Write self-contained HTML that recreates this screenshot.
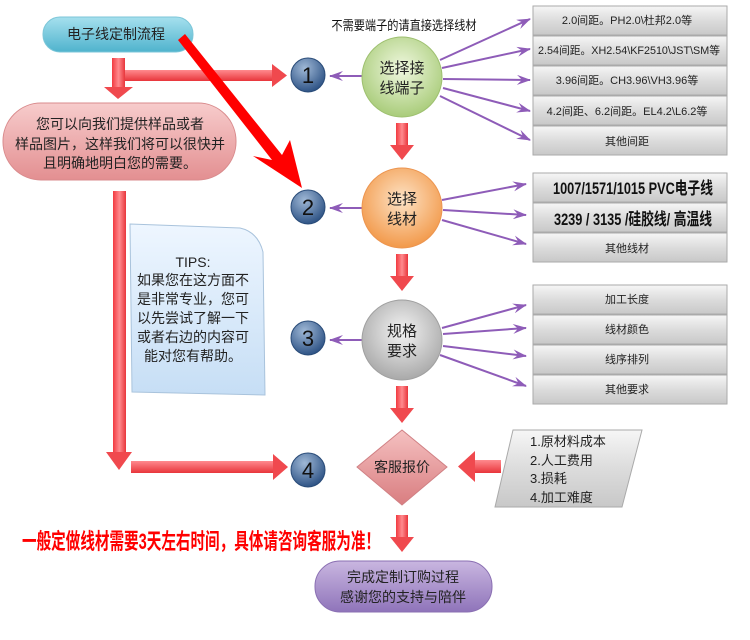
<!DOCTYPE html>
<html><head><meta charset="utf-8"><style>
html,body{margin:0;padding:0;background:#fff;width:750px;height:640px;overflow:hidden}
svg{display:block}
text{font-family:"Liberation Sans","Noto Sans CJK SC",sans-serif}
</style></head><body>
<svg width="750" height="640" viewBox="0 0 750 640" xmlns="http://www.w3.org/2000/svg">
<defs>
<linearGradient id="blue" x1="0" y1="0" x2="0" y2="1"><stop offset="0" stop-color="#a6e0ee"/><stop offset="1" stop-color="#4fb3cd"/></linearGradient>
<linearGradient id="pink" x1="0" y1="0" x2="0" y2="1"><stop offset="0" stop-color="#f7cccc"/><stop offset="1" stop-color="#e38f91"/></linearGradient>
<linearGradient id="purp" x1="0" y1="0" x2="0" y2="1"><stop offset="0" stop-color="#c9b6e0"/><stop offset="1" stop-color="#8f74ba"/></linearGradient>
<linearGradient id="gbox" x1="0" y1="0" x2="0" y2="1"><stop offset="0" stop-color="#f6f6f6"/><stop offset="0.5" stop-color="#dcdcdc"/><stop offset="1" stop-color="#c8c8c8"/></linearGradient>
<linearGradient id="rv" x1="0" y1="0" x2="1" y2="0"><stop offset="0" stop-color="#f23a40"/><stop offset="0.5" stop-color="#ff8a8e"/><stop offset="1" stop-color="#e8353b"/></linearGradient>
<linearGradient id="rh" x1="0" y1="0" x2="0" y2="1"><stop offset="0" stop-color="#ff8a8e"/><stop offset="1" stop-color="#e8353b"/></linearGradient>
<radialGradient id="num" cx="0.4" cy="0.3" r="0.7"><stop offset="0" stop-color="#9fb8d6"/><stop offset="1" stop-color="#2f5486"/></radialGradient>
<radialGradient id="cg" cx="0.5" cy="0.4" r="0.6"><stop offset="0" stop-color="#f0f8e0"/><stop offset="1" stop-color="#a9cc7a"/></radialGradient>
<radialGradient id="co" cx="0.5" cy="0.4" r="0.6"><stop offset="0" stop-color="#fde3c6"/><stop offset="1" stop-color="#f2994a"/></radialGradient>
<radialGradient id="cgr" cx="0.5" cy="0.4" r="0.6"><stop offset="0" stop-color="#f4f4f4"/><stop offset="1" stop-color="#a9a9a9"/></radialGradient>
<linearGradient id="dia" x1="0" y1="0" x2="0" y2="1"><stop offset="0" stop-color="#f5c1c1"/><stop offset="1" stop-color="#d97d80"/></linearGradient>
<linearGradient id="note" x1="0" y1="0" x2="0" y2="1"><stop offset="0" stop-color="#eef6ff"/><stop offset="1" stop-color="#c6def5"/></linearGradient>
<marker id="pa" markerWidth="14" markerHeight="10" refX="13" refY="5" orient="auto" markerUnits="userSpaceOnUse"><path d="M0,0 L14,5 L0,10 L5,5 Z" fill="#8e5cb8"/></marker>
</defs>

<!-- top pill -->
<rect x="43" y="17" width="150" height="35" rx="17" fill="url(#blue)" stroke="#7cc6d8"/>
<text x="116" y="39" font-size="14" text-anchor="middle" fill="#222">电子线定制流程</text>

<!-- red arrows left top -->
<rect x="112" y="58" width="13" height="30" fill="url(#rv)"/>
<path d="M104,87 L133,87 L118,99 Z" fill="#f0494e"/>
<rect x="125" y="70" width="148" height="11" fill="url(#rh)"/>
<path d="M272,64 L287,75.5 L272,87 Z" fill="#f0494e"/>

<!-- pink pill -->
<rect x="3" y="103" width="233" height="77" rx="38" fill="url(#pink)" stroke="#d98b8d"/>
<text font-size="14" text-anchor="middle" fill="#222"><tspan x="120" y="129">您可以向我们提供样品或者</tspan><tspan x="120" y="149">样品图片，这样我们将可以很快并</tspan><tspan x="120" y="168">且明确地明白您的需要。</tspan></text>

<!-- long vertical arrow -->
<rect x="113" y="191" width="13" height="263" fill="url(#rv)"/>
<path d="M106,452 L132,452 L119,470 Z" fill="#f0494e"/>
<rect x="90" y="462" width="0" height="0"/>
<rect x="131" y="461" width="144" height="12" fill="url(#rh)"/>
<path d="M273,454 L288,467 L273,480 Z" fill="#f0494e"/>

<!-- TIPS note -->
<path d="M130,224 L240,228 Q258,232 263,252 L265,395 L132,392 Z" fill="url(#note)" stroke="#a9c3dc"/>
<text font-size="14" text-anchor="middle" fill="#222"><tspan x="193" y="267">TIPS:</tspan><tspan x="193" y="285">如果您在这方面不</tspan><tspan x="193" y="304">是非常专业，您可</tspan><tspan x="193" y="323">以先尝试了解一下</tspan><tspan x="193" y="342">或者右边的内容可</tspan><tspan x="193" y="361">能对您有帮助。</tspan></text>

<!-- big diagonal arrow -->
<path d="M178,40 L185,34 L282,155 L290,140 L302,188 L253,156 L272,160 Z" fill="#ff0000"/>

<!-- number circles -->
<g font-size="22" text-anchor="middle" fill="#111">
<circle cx="308" cy="75" r="17" fill="url(#num)" stroke="#294b78"/><text x="308" y="83">1</text>
<circle cx="308" cy="207" r="17" fill="url(#num)" stroke="#294b78"/><text x="308" y="215">2</text>
<circle cx="308" cy="338" r="17" fill="url(#num)" stroke="#294b78"/><text x="308" y="346">3</text>
<circle cx="308" cy="470" r="17" fill="url(#num)" stroke="#294b78"/><text x="308" y="478">4</text>
</g>

<!-- purple arrows left -->
<g stroke="#8e5cb8" stroke-width="2" fill="none" marker-end="url(#pa)">
<line x1="362" y1="76" x2="330" y2="76"/>
<line x1="362" y1="208" x2="330" y2="208"/>
<line x1="362" y1="340" x2="330" y2="340"/>
<!-- right -->
<line x1="440" y1="60" x2="530" y2="19"/>
<line x1="442" y1="68" x2="530" y2="49"/>
<line x1="443" y1="79" x2="530" y2="80"/>
<line x1="443" y1="88" x2="530" y2="111"/>
<line x1="440" y1="96" x2="530" y2="140"/>
<line x1="442" y1="200" x2="526" y2="184"/>
<line x1="443" y1="210" x2="526" y2="215"/>
<line x1="442" y1="220" x2="526" y2="244"/>
<line x1="442" y1="328" x2="526" y2="305"/>
<line x1="443" y1="334" x2="526" y2="328"/>
<line x1="443" y1="346" x2="526" y2="356"/>
<line x1="440" y1="355" x2="526" y2="386"/>
</g>

<!-- big circles -->
<g font-size="15" text-anchor="middle" fill="#222">
<circle cx="402" cy="77" r="40" fill="url(#cg)" stroke="#9ec070"/><text x="402" y="73">选择接</text><text x="402" y="93">线端子</text>
<circle cx="402" cy="208" r="40" fill="url(#co)" stroke="#ec9550"/><text x="402" y="204">选择</text><text x="402" y="224">线材</text>
<circle cx="402" cy="340" r="40" fill="url(#cgr)" stroke="#a0a0a0"/><text x="402" y="336">规格</text><text x="402" y="356">要求</text>
</g>
<text x="404" y="30" font-size="13" text-anchor="middle" fill="#111" transform="translate(404,0) scale(0.86,1) translate(-404,0)">不需要端子的请直接选择线材</text>

<!-- red down arrows center -->
<g>
<rect x="396" y="123" width="12" height="24" fill="url(#rv)"/><path d="M390,145 L414,145 L402,160 Z" fill="#f0494e"/>
<rect x="396" y="254" width="12" height="24" fill="url(#rv)"/><path d="M390,276 L414,276 L402,291 Z" fill="#f0494e"/>
<rect x="396" y="386" width="12" height="24" fill="url(#rv)"/><path d="M390,408 L414,408 L402,423 Z" fill="#f0494e"/>
<rect x="396" y="515" width="12" height="24" fill="url(#rv)"/><path d="M390,537 L414,537 L402,552 Z" fill="#f0494e"/>
</g>

<!-- gray boxes -->
<g fill="url(#gbox)" stroke="#aaa">
<rect x="533" y="6" width="194" height="29"/><rect x="533" y="36" width="194" height="29"/><rect x="533" y="66" width="194" height="29"/><rect x="533" y="96" width="194" height="29"/><rect x="533" y="126" width="194" height="29"/>
<rect x="533" y="173" width="194" height="29"/><rect x="533" y="203" width="194" height="29"/><rect x="533" y="233" width="194" height="29"/>
<rect x="533" y="285" width="194" height="29"/><rect x="533" y="315" width="194" height="29"/><rect x="533" y="345" width="194" height="29"/><rect x="533" y="375" width="194" height="29"/>
</g>
<g font-size="11" text-anchor="middle" fill="#222">
<text x="627" y="24">2.0间距。PH2.0\杜邦2.0等</text>
<text x="629" y="54" textLength="182" lengthAdjust="spacingAndGlyphs">2.54间距。XH2.54\KF2510\JST\SM等</text>
<text x="627" y="84">3.96间距。CH3.96\VH3.96等</text>
<text x="627" y="115">4.2间距、6.2间距。EL4.2\L6.2等</text>
<text x="627" y="145">其他间距</text>
<text x="627" y="252">其他线材</text>
<text x="627" y="303">加工长度</text>
<text x="627" y="333">线材颜色</text>
<text x="627" y="363">线序排列</text>
<text x="627" y="393">其他要求</text>
</g>
<text x="633" y="194" font-size="17" font-weight="bold" text-anchor="middle" fill="#111" textLength="160" lengthAdjust="spacingAndGlyphs">1007/1571/1015 PVC电子线</text>
<text x="633" y="225" font-size="17" font-weight="bold" text-anchor="middle" fill="#111" textLength="158" lengthAdjust="spacingAndGlyphs">3239 / 3135 /硅胶线/ 高温线</text>

<!-- diamond -->
<path d="M402,430 L447,467 L402,505 L357,467 Z" fill="url(#dia)" stroke="#d08084"/>
<text x="402" y="472" font-size="14" text-anchor="middle" fill="#222">客服报价</text>

<!-- left arrow into diamond -->
<rect x="473" y="460" width="28" height="13" fill="url(#rh)"/>
<path d="M475,451 L458,466.5 L475,482 Z" fill="#f0494e"/>

<!-- parallelogram -->
<path d="M513,430 L642,430 L622,507 L495,507 Z" fill="url(#gbox)" stroke="#aaa"/>
<text font-size="13" fill="#222"><tspan x="530" y="446">1.原材料成本</tspan><tspan x="530" y="465">2.人工费用</tspan><tspan x="530" y="483">3.损耗</tspan><tspan x="530" y="502">4.加工难度</tspan></text>

<!-- red notice -->
<text x="22" y="549" font-size="22" font-weight="bold" fill="#ff0000" textLength="358" lengthAdjust="spacingAndGlyphs">一般定做线材需要3天左右时间，具体请咨询客服为准！</text>

<!-- bottom pill -->
<rect x="315" y="561" width="177" height="51" rx="25" fill="url(#purp)" stroke="#8a6fb2"/>
<text font-size="14" text-anchor="middle" fill="#222"><tspan x="403" y="582">完成定制订购过程</tspan><tspan x="403" y="602">感谢您的支持与陪伴</tspan></text>
</svg>
</body></html>
